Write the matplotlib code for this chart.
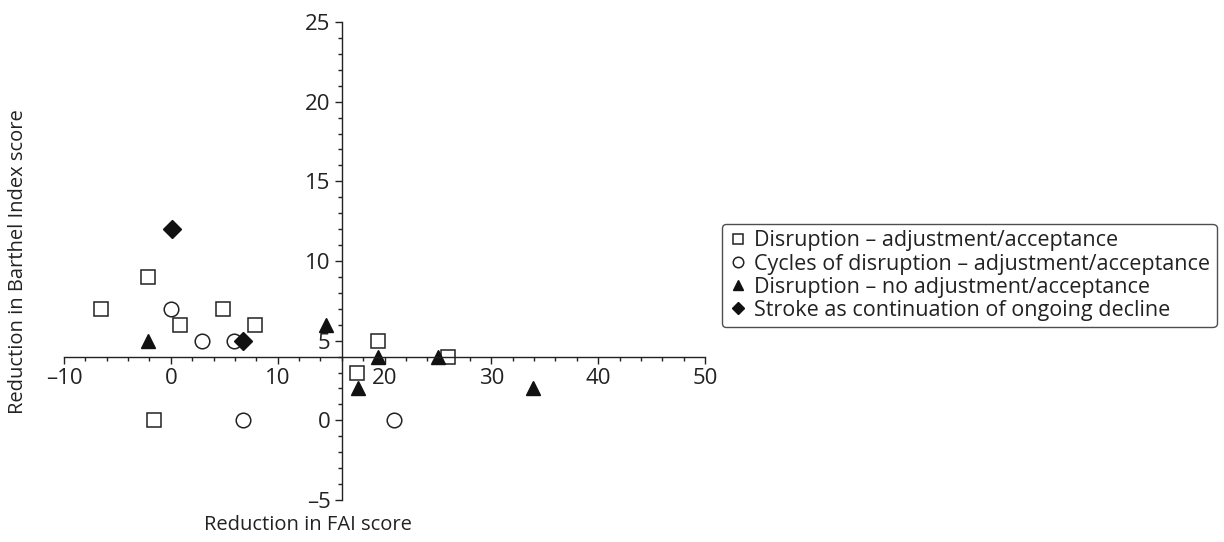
import matplotlib
matplotlib.use("Agg")
import matplotlib.pyplot as plt
from matplotlib.ticker import MultipleLocator

plt.rcParams['font.family'] = ['Open Sans', 'DejaVu Sans']

# Data (reduction in FAI score, reduction in Barthel Index score)
sq_x = [-6.5, -2.1, 0.9, 4.9, 7.9, -1.6, 19.4, 17.4, 25.9]
sq_y = [7, 9, 6, 7, 6, 0, 5, 3, 4]
ci_x = [0.0, 2.9, 5.9, 6.8, 20.9]
ci_y = [7, 5, 5, 0, 0]
tr_x = [-2.1, 14.5, 19.4, 17.5, 25.0, 33.9]
tr_y = [5, 6, 4, 2, 4, 2]
di_x = [0.1, 6.8]
di_y = [12, 5]

labels = ["Disruption \u2013 adjustment/acceptance",
          "Cycles of disruption \u2013 adjustment/acceptance",
          "Disruption \u2013 no adjustment/acceptance",
          "Stroke as continuation of ongoing decline"]

x_ticks = [-10, 0, 10, 20, 30, 40, 50]
y_ticks = [-5, 0, 5, 10, 15, 20, 25]

fig = plt.figure(figsize=(12.24, 5.42), dpi=100)
ax = fig.add_axes([64/1224, 1-500/542, (705-64)/1224, (500-22)/542])

ms = 10.5
ax.plot(sq_x, sq_y, 's', ms=ms, mfc='white', mec='#222222', mew=1.1, label=labels[0], clip_on=False)
ax.plot(ci_x, ci_y, 'o', ms=ms, mfc='white', mec='#222222', mew=1.1, label=labels[1], clip_on=False)
ax.plot(tr_x, tr_y, '^', ms=ms, mfc='#111111', mec='#111111', label=labels[2], clip_on=False)
ax.plot(di_x, di_y, 'D', ms=ms*0.85, mfc='#111111', mec='#111111', label=labels[3], clip_on=False)

ax.set_xlim(-10, 50)
ax.set_ylim(-5, 25)
ax.spines['left'].set_position(('data', 16))
ax.spines['bottom'].set_position(('data', 4))
ax.spines['top'].set_visible(False)
ax.spines['right'].set_visible(False)
for s in ('left', 'bottom'):
    ax.spines[s].set_linewidth(1.0)
    ax.spines[s].set_color('#222222')

ax.set_xticks(x_ticks)
ax.set_xticklabels([str(v).replace('-', '\u2013') for v in x_ticks])
ax.set_yticks(y_ticks)
ax.set_yticklabels([str(v).replace('-', '\u2013') for v in y_ticks])
ax.xaxis.set_minor_locator(MultipleLocator(2))
ax.yaxis.set_minor_locator(MultipleLocator(1))
ax.tick_params(which='major', direction='out', length=5, width=1, labelsize=16, colors='#222222', pad=3)
ax.tick_params(which='minor', direction='out', length=3, width=1, colors='#222222')

fig.text(308/1224, 1-525/542, "Reduction in FAI score", ha='center', va='center', fontsize=14.5, color='#222222')
fig.text(18/1224, 1-262/542, "Reduction in Barthel Index score", ha='center', va='center',
         rotation=90, fontsize=14.5, color='#222222')

leg = ax.legend(loc='upper left', bbox_to_anchor=(722/1224, 1-224/542), bbox_transform=fig.transFigure,
                frameon=True, fancybox=True, edgecolor='#222222', fontsize=15.5,
                handlelength=0.9, handletextpad=0.3, borderpad=0.3, labelspacing=0.1,
                markerscale=0.72, borderaxespad=0)
leg.get_frame().set_linewidth(1.0)
for t in leg.get_texts():
    t.set_color('#222222')

fig.savefig("out.png", dpi=100)
